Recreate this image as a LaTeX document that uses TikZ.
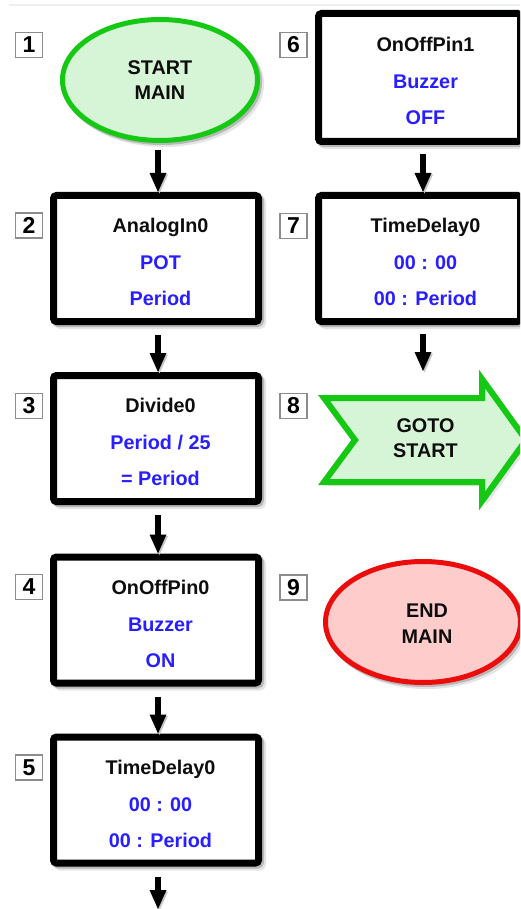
\documentclass[tikz,border=0pt]{standalone}
\usepackage{fontspec}
\setmainfont{Liberation Sans}
\usetikzlibrary{arrows.meta,shapes.geometric,calc}
\definecolor{fgreen}{RGB}{20,200,20}
\definecolor{lgreen}{RGB}{214,245,214}
\definecolor{fred}{RGB}{235,12,12}
\definecolor{lred}{RGB}{255,204,204}
\definecolor{tblue}{RGB}{40,30,255}
\definecolor{toplinecol}{RGB}{236,240,246}
\newcommand\bodyfont{\fontsize{19.8}{23}\selectfont\bfseries}
\newcommand\numfont{\fontsize{23}{26}\selectfont\bfseries}
\tikzset{
  softshadow/.style={
    preaction={draw=black!10, fill=black!10, transform canvas={shift={(4pt,-4pt)}}},
    preaction={draw=black!28, fill=black!28, transform canvas={shift={(2pt,-2pt)}}}},
  procbox/.style={rectangle, draw=black, fill=white, line width=7pt, rounded corners=3pt, inner sep=0pt, softshadow},
  leftbox/.style={procbox, minimum width=205pt, minimum height=126pt},
  rightbox/.style={procbox, minimum width=202pt, minimum height=126pt},
  termell/.style={ellipse, line width=5pt, inner sep=0pt, minimum width=195pt, minimum height=121pt, softshadow},
  startell/.style={termell, draw=fgreen, fill=lgreen},
  endell/.style={termell, draw=fred, fill=lred},
  gotoshape/.style={draw=fgreen, fill=lgreen, line width=6pt, line join=miter, softshadow},
  titletext/.style={font=\bodyfont, text=black!95, inner sep=0pt, anchor=base},
  valtext/.style={font=\bodyfont, text=tblue, inner sep=0pt, anchor=base},
  numbox/.style={draw=black!45, line width=1.3pt, fill=white, minimum width=27pt, minimum height=25pt, inner sep=0pt, font=\numfont},
  flow/.style={draw=black, line width=6pt, -{Triangle[width=17pt,length=19pt,line width=0pt]},
    preaction={draw=black!22, transform canvas={shift={(1.5pt,-1.5pt)}}}},
  topline/.style={draw=toplinecol, line width=1.5pt}
}
% style, name, centre, text xshift, line1, line2, line3
\newcommand\flowbox[7]{%
  \node[#1] (#2) at (#3) {};
  \node[titletext] (#2-1) at ([xshift=#4, yshift=26pt]#2.center) {#5};
  \node[valtext]   (#2-2) at ([xshift=#4, yshift=-11pt]#2.center) {#6};
  \node[valtext]   (#2-3) at ([xshift=#4, yshift=-47pt]#2.center) {#7};
}
\begin{document}
\begin{tikzpicture}[x=1pt,y=-1pt]
\useasboundingbox (0,0) rectangle (520,909);
\clip (0,0) rectangle (520,909);
\fill[white] (0,0) rectangle (520,909);
\draw[topline] (9,5) -- (520,5);

% left column
\node[startell] (e1) at (160,80) {};
\node[titletext] (e1-1) at ([yshift=5pt]e1.center) {START};
\node[titletext] (e1-2) at ([yshift=-20pt]e1.center) {MAIN};

\flowbox{leftbox}{b2}{156,258.5}{4.5pt}{AnalogIn0}{POT}{Period}
\flowbox{leftbox}{b3}{156,438.5}{4.5pt}{Divide0}{Period / 25}{= Period}
\flowbox{leftbox}{b4}{156,620}{4.5pt}{OnOffPin0}{Buzzer}{ON}
\flowbox{leftbox}{b5}{156,800}{4.5pt}{TimeDelay0}{00 : 00}{00 : Period}

% right column
\node[rightbox, minimum height=128pt] (b6) at (419.5,77.5) {};
\node[titletext] (b6-1) at ([xshift=6pt, yshift=26pt]b6.center) {OnOffPin1};
\node[valtext]   (b6-2) at ([xshift=6pt, yshift=-11pt]b6.center) {Buzzer};
\node[valtext]   (b6-3) at ([xshift=6pt, yshift=-47pt]b6.center) {OFF};
\flowbox{rightbox}{b7}{419.5,258.5}{6pt}{TimeDelay0}{00 : 00}{00 : Period}

\draw[gotoshape] (324,398) -- (482,398) -- (482,379) -- (526,440) -- (482,501)
  -- (482,482) -- (324,482) -- (355,440) -- cycle;
\coordinate (g8) at (425,440);
\node[titletext] (g8-1) at (425.5,432) {GOTO};
\node[titletext] (g8-2) at (425.5,457) {START};

\node[endell] (e9) at (423,622) {};
\node[titletext] (e9-1) at ([xshift=4pt, yshift=5pt]e9.center) {END};
\node[titletext] (e9-2) at ([xshift=4pt, yshift=-21pt]e9.center) {MAIN};

% numbers
\node[numbox] (n1) at (29,45) {1};
\node[numbox] (n2) at (29,225.5) {2};
\node[numbox] (n3) at (29,406) {3};
\node[numbox] (n4) at (29,587) {4};
\node[numbox] (n5) at (29,767.5) {5};
\node[numbox] (n6) at (293.5,45) {6};
\node[numbox] (n7) at (293.5,226) {7};
\node[numbox] (n8) at (293.5,406) {8};
\node[numbox] (n9) at (293.5,587.5) {9};

% connectors
\coordinate (g8in) at (423,371);
\coordinate (tail) at (158,909);
\draw[flow] ([xshift=-2pt,yshift=-7pt]e1.south) -- ([xshift=2pt]b2.north);
\draw[flow] ([xshift=2pt,yshift=-10pt]b2.south) -- ([xshift=2pt]b3.north);
\draw[flow] ([xshift=2pt,yshift=-10pt]b3.south) -- ([xshift=2pt]b4.north);
\draw[flow] ([xshift=2pt,yshift=-10pt]b4.south) -- ([xshift=2pt]b5.north);
\draw[flow] ([xshift=2pt,yshift=-10pt]b5.south) -- (tail);
\draw[flow] ([xshift=3.5pt,yshift=-9pt]b6.south) -- ([xshift=3.5pt]b7.north);
\draw[flow] ([xshift=3.5pt,yshift=-9pt]b7.south) -- (g8in);
\end{tikzpicture}
\end{document}
